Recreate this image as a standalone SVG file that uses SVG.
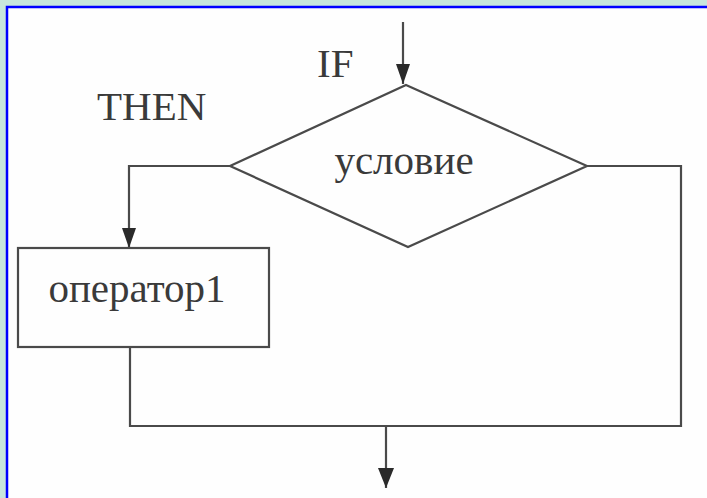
<svg xmlns="http://www.w3.org/2000/svg" width="707" height="498" viewBox="0 0 707 498">
<style>
.ln{fill:none;stroke:#4a4a4a;stroke-width:2.2}
.sh{fill:#fefefe;stroke:#4a4a4a;stroke-width:2.2}
.tx{font-family:"Liberation Serif","Times New Roman",serif;font-size:41px;fill:#3a3a3a}
</style>
<defs>
<marker id="ah" viewBox="0 0 20 14" refX="20" refY="7" markerWidth="20" markerHeight="14" markerUnits="userSpaceOnUse" orient="auto">
<path d="M0,0 L20,7 L0,14 Z" fill="#2a2a2a"/>
</marker>
<marker id="ahw" viewBox="0 0 20 16" refX="20" refY="8" markerWidth="20" markerHeight="16" markerUnits="userSpaceOnUse" orient="auto">
<path d="M0,0 L20,8 L0,16 Z" fill="#2a2a2a"/>
</marker>
</defs>
<rect x="0" y="0" width="707" height="498" fill="#c8e6dc"/>
<rect x="7" y="7" width="702" height="495" fill="#fefefe" stroke="#0000ff" stroke-width="2.5"/>
<g id="connectors">
<path class="ln" d="M403,22 V84" marker-end="url(#ah)"/>
<path class="ln" d="M230,166 H129 V248" marker-end="url(#ah)"/>
<path class="ln" d="M587,166 H681 V426 H130 V348"/>
<path class="ln" d="M386,426 V488" marker-end="url(#ahw)"/>
</g>
<g id="label-if"><text class="tx" x="317" y="77">IF</text></g>
<g id="label-then"><text class="tx" x="97" y="120">THEN</text></g>
<g id="condition">
<polygon class="sh" points="406,85 587,166 408,247 230,166"/>
<text class="tx" x="404" y="174" text-anchor="middle">условие</text>
</g>
<g id="operator1">
<rect class="sh" x="18" y="248" width="251" height="99"/>
<text class="tx" x="137" y="302" text-anchor="middle">оператор1</text>
</g>
</svg>
